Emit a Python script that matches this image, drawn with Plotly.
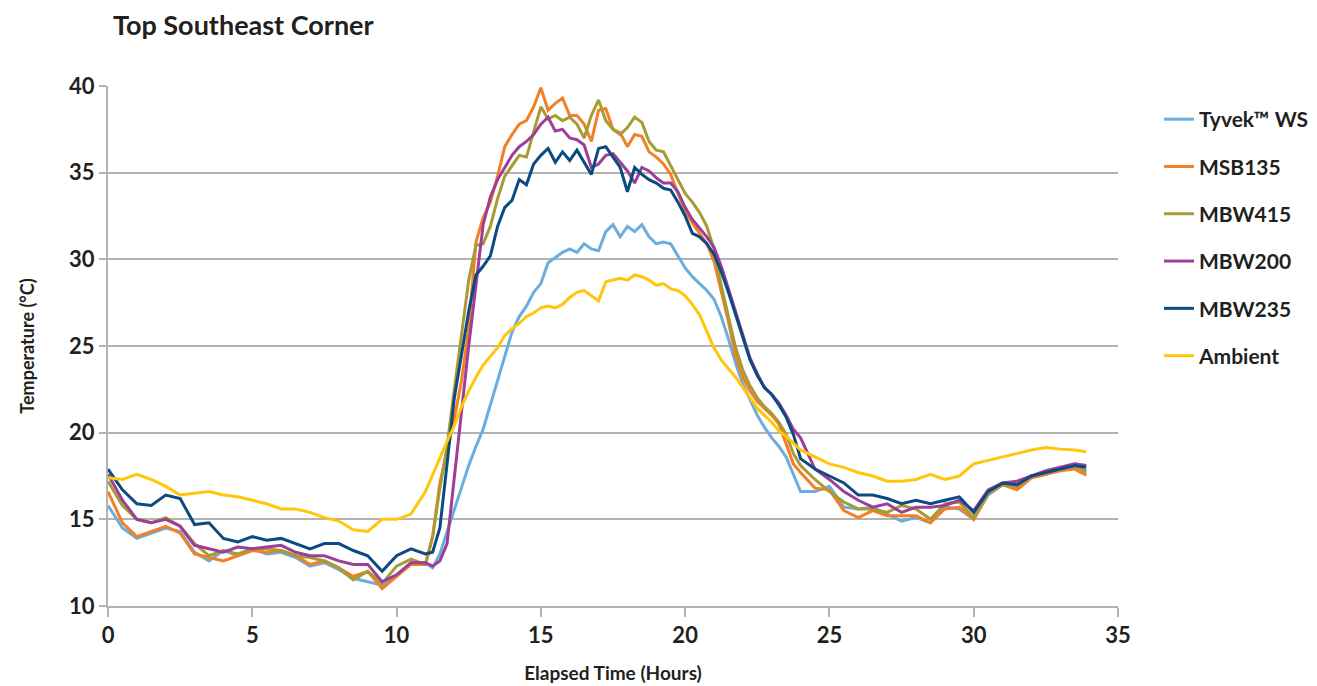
import plotly.graph_objects as go

hours = [0, 0.5, 1, 1.5, 2, 2.5, 3, 3.5, 4, 4.5, 5, 5.5, 6, 6.5, 7, 7.5, 8, 8.5, 9, 9.5, 10, 10.5,
         11, 11.25, 11.5, 11.75, 12, 12.25, 12.5, 12.75, 13, 13.25, 13.5, 13.75,
         14, 14.25, 14.5, 14.75, 15, 15.25, 15.5, 15.75, 16, 16.25, 16.5, 16.75,
         17, 17.25, 17.5, 17.75, 18, 18.25, 18.5, 18.75, 19, 19.25, 19.5, 19.75,
         20, 20.25, 20.5, 20.75, 21, 21.25, 21.5, 21.75, 22, 22.25, 22.5, 22.75,
         23, 23.25, 23.5, 23.75,
         24, 24.5, 25, 25.5, 26, 26.5, 27, 27.5, 28, 28.5, 29, 29.5, 30, 30.5, 31, 31.5,
         32, 32.5, 33, 33.5, 33.9]

tyvek_ws = [15.8, 14.5, 13.9, 14.2, 14.5, 14.3, 13.1, 12.6, 13.2, 12.9, 13.3, 13.0, 13.1, 12.8, 12.3, 12.5, 12.1, 11.6, 11.4, 11.2, 11.8, 12.5,
            12.5, 12.2, 13.0, 14.3, 15.5, 16.9, 18.1, 19.2, 20.2, 21.6, 23.0, 24.5,
            25.8, 26.7, 27.3, 28.1, 28.6, 29.8, 30.1, 30.4, 30.6, 30.4, 30.9, 30.6,
            30.5, 31.6, 32.0, 31.3, 31.9, 31.6, 32.0, 31.3, 30.9, 31.0, 30.9, 30.2,
            29.5, 29.0, 28.6, 28.2, 27.7, 26.7, 25.4, 24.0, 22.8, 21.9, 21.0, 20.3,
            19.7, 19.2, 18.6, 17.6,
            16.6, 16.6, 16.9, 15.7, 15.6, 15.7, 15.3, 14.9, 15.1, 14.8, 15.7, 15.6, 15.0, 16.4, 17.0, 16.8,
            17.4, 17.6, 17.9, 18.0, 17.7]

msb135 = [16.6, 14.8, 14.0, 14.3, 14.6, 14.2, 13.0, 12.8, 12.6, 12.9, 13.2, 13.1, 13.2, 12.9, 12.4, 12.6, 12.2, 11.7, 12.0, 11.0, 11.7, 12.4,
          12.4, 14.0, 17.1, 19.0, 20.8, 23.0, 26.0, 31.0, 32.4, 33.3, 34.8, 36.5,
          37.2, 37.8, 38.0, 38.8, 39.9, 38.6, 39.0, 39.3, 38.3, 38.3, 37.8, 36.8,
          38.6, 38.7, 37.5, 37.3, 36.5, 37.2, 37.1, 36.2, 35.9, 35.5, 34.9, 33.8,
          32.8, 32.1, 31.5, 30.9, 29.9, 28.2, 26.4, 24.4, 23.2, 22.4, 21.8, 21.4,
          21.0, 20.5, 19.4, 18.2,
          17.7, 16.8, 16.7, 15.5, 15.1, 15.5, 15.2, 15.2, 15.2, 14.8, 15.6, 15.7, 15.0, 16.5, 17.0, 16.7,
          17.4, 17.6, 17.8, 17.9, 17.55]

mbw415 = [17.2, 15.8, 15.0, 14.8, 15.1, 14.6, 13.6, 12.9, 13.2, 13.0, 13.3, 13.3, 13.2, 12.9, 12.8, 12.6, 12.2, 11.5, 12.0, 11.3, 12.3, 12.7,
          12.4, 14.0, 16.8, 19.2, 22.5, 25.5, 28.8, 30.8, 30.9, 31.9, 33.5, 34.8,
          35.4, 36.0, 35.9, 37.3, 38.8, 38.1, 38.3, 38.0, 38.2, 37.8, 37.0, 38.3,
          39.2, 38.0, 37.5, 37.2, 37.6, 38.2, 37.9, 36.8, 36.3, 36.2, 35.4, 34.6,
          33.8, 33.3, 32.7, 31.9, 30.6, 28.5, 26.7, 24.9, 23.6, 22.7, 22.0, 21.5,
          21.1, 20.6, 19.9, 18.8,
          18.1, 17.3, 16.6, 16.0, 15.6, 15.6, 15.4, 15.8, 15.6, 15.0, 15.9, 16.0, 15.1, 16.6, 17.0, 16.9,
          17.5, 17.7, 17.9, 18.1, 17.8]

mbw200 = [17.6, 16.1, 15.0, 14.8, 15.0, 14.6, 13.5, 13.3, 13.1, 13.4, 13.3, 13.4, 13.5, 13.1, 12.9, 12.9, 12.6, 12.4, 12.4, 11.4, 11.8, 12.5,
          12.5, 12.3, 12.6, 13.6, 17.6, 21.2, 25.0, 28.5, 32.0, 33.6, 34.6, 35.3,
          36.0, 36.5, 36.8, 37.2, 37.8, 38.2, 37.4, 37.5, 37.0, 36.9, 36.6, 35.3,
          35.5, 36.0, 36.1, 35.6, 35.1, 34.4, 35.3, 35.1, 34.7, 34.4, 34.4, 33.9,
          33.0, 32.3, 31.8, 31.3, 30.7, 29.6, 28.3, 27.0, 25.6, 24.3, 23.4, 22.6,
          22.2, 21.7, 21.0, 20.2,
          19.7, 17.9, 17.3, 16.6, 16.1, 15.7, 15.9, 15.4, 15.7, 15.7, 15.8, 16.1, 15.5, 16.7, 17.1, 17.2,
          17.5, 17.8, 18.0, 18.2, 18.1]

mbw235 = [17.9, 16.7, 15.9, 15.8, 16.4, 16.2, 14.7, 14.8, 13.9, 13.7, 14.0, 13.8, 13.9, 13.6, 13.3, 13.6, 13.6, 13.2, 12.9, 12.0, 12.9, 13.3,
          13.0, 13.1, 14.5, 18.2, 22.0, 24.5, 27.0, 29.1, 29.6, 30.2, 31.9, 33.0,
          33.4, 34.6, 34.3, 35.5, 36.0, 36.4, 35.6, 36.2, 35.7, 36.3, 35.6, 34.9,
          36.4, 36.5, 35.9, 35.3, 33.9, 35.3, 34.9, 34.6, 34.4, 34.1, 34.0, 33.3,
          32.5, 31.5, 31.3, 30.9, 30.3, 29.3, 28.1, 26.8, 25.4, 24.2, 23.3, 22.6,
          22.2, 21.6, 20.9, 19.9,
          18.5, 17.9, 17.5, 17.1, 16.4, 16.4, 16.2, 15.9, 16.1, 15.9, 16.1, 16.3, 15.4, 16.6, 17.1, 17.0,
          17.5, 17.7, 17.9, 18.1, 18.0]

ambient = [17.4, 17.3, 17.6, 17.3, 16.9, 16.4, 16.5, 16.6, 16.4, 16.3, 16.1, 15.9, 15.6, 15.6, 15.4, 15.1, 14.9, 14.4, 14.3, 15.0, 15.0, 15.3,
           16.6, 17.6, 18.6, 19.5, 20.4, 21.5, 22.4, 23.2, 23.9, 24.4, 24.9, 25.6,
           26.0, 26.3, 26.7, 26.9, 27.2, 27.3, 27.2, 27.4, 27.8, 28.1, 28.2, 27.9,
           27.6, 28.7, 28.8, 28.9, 28.8, 29.1, 29.0, 28.8, 28.5, 28.6, 28.3, 28.2,
           27.9, 27.4, 26.8, 25.9, 24.9, 24.2, 23.7, 23.2, 22.6, 22.0, 21.4, 21.0,
           20.6, 20.1, 19.8, 19.4,
           19.0, 18.6, 18.2, 18.0, 17.7, 17.5, 17.2, 17.2, 17.3, 17.6, 17.3, 17.5, 18.2, 18.4, 18.6, 18.8,
           19.0, 19.15, 19.05, 19.0, 18.9]

series_names = ["Tyvek\u2122 WS", "MSB135", "MBW415", "MBW200", "MBW235", "Ambient"]
series_values = [tyvek_ws, msb135, mbw415, mbw200, mbw235, ambient]
series_colors = ["#6AADDE", "#F47F24", "#A89B34", "#9C3F98", "#0B4A82", "#FFC60C"]

x_ticks = [0, 5, 10, 15, 20, 25, 30, 35]
y_ticks = [10, 15, 20, 25, 30, 35, 40]

FONT = "Lato"
TXT = "#231F20"
GRID = "#B3B3B3"
W, H = 1309, 678  # page body has an 8px margin

fig = go.Figure()
for i, (name, vals, col) in enumerate(zip(series_names, series_values, series_colors)):
    fig.add_trace(go.Scatter(
        x=hours, y=vals, mode="lines", name=f"<b>{name}</b>",
        line=dict(color=col, width=3),
        legendgroup=f"g{i}",
    ))

fig.update_layout(
    width=W, height=H,
    paper_bgcolor="white", plot_bgcolor="white",
    margin=dict(l=100, r=199, t=78, b=80),
    font=dict(family=FONT, color=TXT),
    title=dict(text="<b>Top Southeast Corner</b>", font=dict(size=27, family=FONT, color=TXT),
               xref="container", yref="container", x=105/W, xanchor="left",
               y=1-18/H, yanchor="middle"),
    legend=dict(xref="container", yref="container", x=1151/W, xanchor="left",
                y=1-91/H, yanchor="top",
                font=dict(size=21, family=FONT, color=TXT), tracegroupgap=17,
                bgcolor="rgba(0,0,0,0)"),
    showlegend=True,
)

fig.update_xaxes(range=[0, 35], tickvals=x_ticks, ticktext=[f"<b>{v}</b>" for v in x_ticks],
                 showgrid=False, showline=True, linecolor=GRID, linewidth=2,
                 ticks="outside", ticklen=9, tickwidth=2, tickcolor=GRID,
                 tickfont=dict(size=22, family=FONT, color=TXT), automargin=False,
                 title=dict(text="<b>Elapsed Time (Hours)</b>", font=dict(size=19, family=FONT, color=TXT), standoff=19),
                 zeroline=False)
fig.update_yaxes(range=[10, 40], tickvals=y_ticks, ticktext=[f"<b>{v}</b>" for v in y_ticks],
                 showgrid=True, gridcolor=GRID, gridwidth=2,
                 showline=True, linecolor=GRID, linewidth=2,
                 ticks="outside", ticklen=7, tickwidth=2, tickcolor=GRID,
                 tickfont=dict(size=22, family=FONT, color=TXT), automargin=False,
                 title=dict(text="<b>Temperature (°C)</b>", font=dict(size=18, family=FONT, color=TXT), standoff=30),
                 zeroline=False)

fig.write_html("out.html")
